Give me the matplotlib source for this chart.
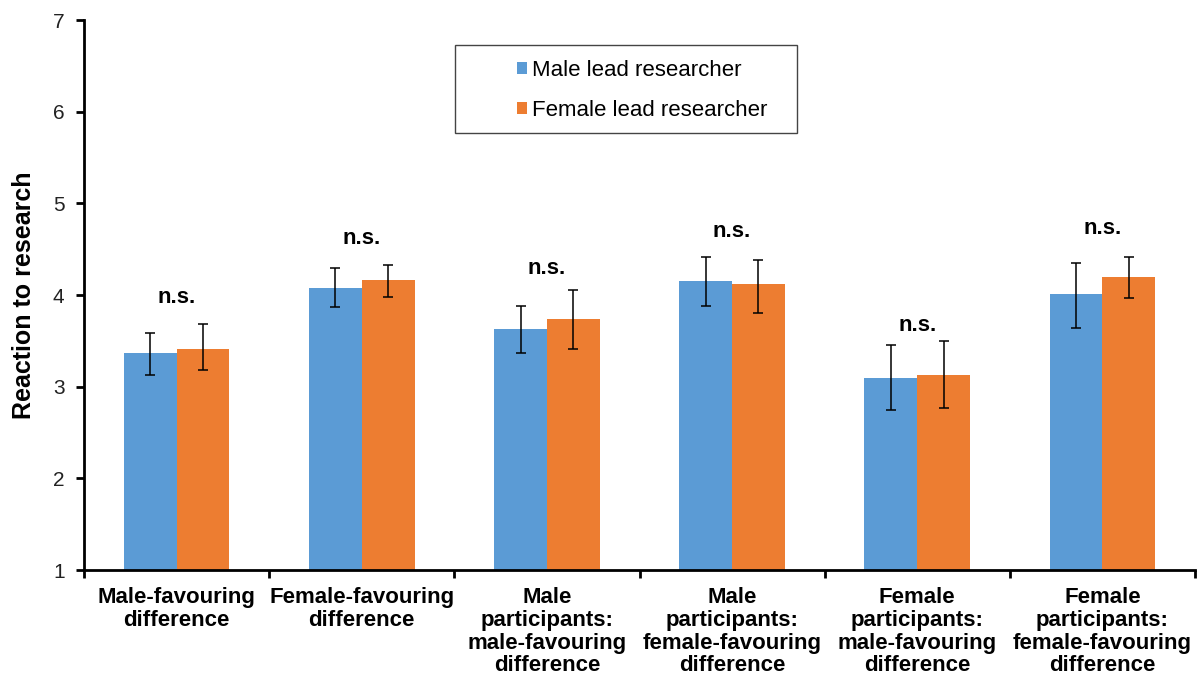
import matplotlib
matplotlib.use("Agg")
import matplotlib.pyplot as plt
from matplotlib.patches import Rectangle
import numpy as np

plt.rcParams['font.family'] = ['Liberation Sans', 'DejaVu Sans']

# group labels
groups = ["Male-favouring\ndifference",
          "Female-favouring\ndifference",
          "Male\nparticipants:\nmale-favouring\ndifference",
          "Male\nparticipants:\nfemale-favouring\ndifference",
          "Female\nparticipants:\nmale-favouring\ndifference",
          "Female\nparticipants:\nfemale-favouring\ndifference"]

# means
male_lead = [3.37, 4.08, 3.63, 4.15, 3.09, 4.01]
female_lead = [3.41, 4.16, 3.74, 4.12, 3.13, 4.20]

# error bar ends (lower, upper)
male_lo = [3.13, 3.87, 3.37, 3.88, 2.75, 3.64]
male_hi = [3.59, 4.29, 3.88, 4.41, 3.45, 4.35]
female_lo = [3.18, 3.98, 3.41, 3.80, 2.77, 3.97]
female_hi = [3.68, 4.33, 4.06, 4.38, 3.50, 4.42]

# "n.s." label heights
ns_y = [3.97, 4.62, 4.29, 4.69, 3.67, 4.73]

blue = '#5B9BD5'
orange = '#ED7D31'

fig = plt.figure(figsize=(12.03, 6.86), dpi=100)
ax = fig.add_axes([84 / 1203, 116 / 686, 1111 / 1203, 550 / 686])

x = np.arange(len(groups))
w = 0.285

m_err = [np.array(male_lead) - np.array(male_lo), np.array(male_hi) - np.array(male_lead)]
f_err = [np.array(female_lead) - np.array(female_lo), np.array(female_hi) - np.array(female_lead)]

ax.bar(x - w / 2, np.array(male_lead) - 1, w, bottom=1, color=blue, label='Male lead researcher',
       yerr=m_err, error_kw=dict(ecolor='black', elinewidth=1.1, capsize=3.5, capthick=1.1))
ax.bar(x + w / 2, np.array(female_lead) - 1, w, bottom=1, color=orange, label='Female lead researcher',
       yerr=f_err, error_kw=dict(ecolor='black', elinewidth=1.1, capsize=3.5, capthick=1.1))

for xi, yi in zip(x, ns_y):
    ax.text(xi, yi, 'n.s.', ha='center', va='center', fontsize=16, fontweight='bold')

ax.set_xlim(-0.5, len(groups) - 0.5)
ax.set_ylim(1, 7)
ax.set_yticks(range(1, 8))
ax.tick_params(axis='y', labelsize=15, width=2, length=6, pad=8, direction='out', labelcolor='#222222')

ax.set_xticks(np.arange(len(groups) + 1) - 0.5)
ax.set_xticklabels([''] * (len(groups) + 1))
ax.tick_params(axis='x', width=2, length=6, direction='out')
ax.set_xticks(x, minor=True)
ax.set_xticklabels(groups, minor=True, fontsize=16, fontweight='bold', linespacing=1.12)
ax.tick_params(axis='x', which='minor', length=0, pad=12)

for s in ['top', 'right']:
    ax.spines[s].set_visible(False)
for s in ['left', 'bottom']:
    ax.spines[s].set_linewidth(2)

ax.set_ylabel('Reaction to research', fontsize=18, fontweight='bold', labelpad=12)

leg = ax.legend(loc='center', bbox_to_anchor=(642 / 1203, 1 - 90.5 / 686), bbox_transform=fig.transFigure,
                frameon=False, fontsize=16, handlelength=0.45, handleheight=0.45,
                handletextpad=0.25, labelspacing=0.85, borderpad=0)
fig.patches.append(Rectangle((455 / 1203, 1 - 133 / 686), 342 / 1203, 88 / 686,
                             transform=fig.transFigure, fill=False, edgecolor='#444444', linewidth=1))

fig.savefig('out.png', dpi=100)
